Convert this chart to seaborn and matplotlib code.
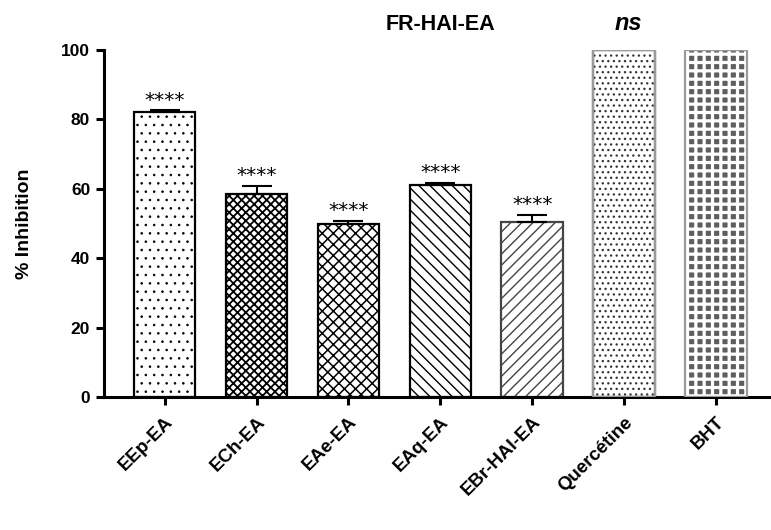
import matplotlib
matplotlib.use("Agg")
import matplotlib.pyplot as plt
import seaborn as sns
import numpy as np
import pandas as pd

categories = ["EEp-EA", "ECh-EA", "EAe-EA", "EAq-EA", "EBr-HAI-EA", "Quercétine", "BHT"]
inhibition = [82.1, 58.5, 49.9, 61.1, 50.4, 100.0, 100.0]
sem = [0.5, 2.3, 0.8, 0.6, 2.0, 0.0, 0.0]
signif = ["****", "****", "****", "****", "****", "", ""]
hatches = ["..", "xxxx", "xxx", "\\\\\\", "///", "...", "++"]
edgecolors = ["black", "black", "black", "black", "#444444", "#333333", "white"]
facecolors = ["white", "white", "white", "white", "white", "white", "#5e5e5e"]
hatch_lw = [0.6, 1.3, 1.1, 1.0, 1.0, 0.9, 2.3]

sns.set_style("ticks")
plt.rcParams["font.family"] = ["Liberation Sans", "DejaVu Sans"]
plt.rcParams["hatch.linewidth"] = 1.0
plt.rcParams["text.color"] = "black"
plt.rcParams["axes.labelcolor"] = "black"
plt.rcParams["xtick.color"] = "black"
plt.rcParams["ytick.color"] = "black"
plt.rcParams["axes.edgecolor"] = "black"

fig = plt.figure(figsize=(7.71, 5.30), dpi=100)
ax = fig.add_axes([0.135, 0.251, 0.865, 0.655])

df = pd.DataFrame({"cat": categories, "val": inhibition})
sns.barplot(data=df, x="cat", y="val", order=categories, ax=ax, width=0.67,
            color="white", edgecolor="black", linewidth=1.6, errorbar=None,
            saturation=1)

for p, h, ec, fc, hl in zip(ax.patches, hatches, edgecolors, facecolors, hatch_lw):
    p.set_hatch(h)
    p.set_edgecolor(ec)
    p.set_facecolor(fc)
    if hasattr(p, "set_hatch_linewidth"):
        p.set_hatch_linewidth(hl)

# light grey outlines for the reference bars
bars = ax.patches[5:7]
for p in bars:
    ax.add_patch(plt.Rectangle(p.get_xy(), p.get_width(), p.get_height(),
                               fill=False, edgecolor="#9a9a9a", linewidth=1.6, zorder=3))

xs = np.arange(len(categories))
ax.errorbar(xs[:5], inhibition[:5], yerr=[np.zeros(5), sem[:5]], fmt="none",
            ecolor="black", elinewidth=1.5, capsize=10.5, capthick=1.5, zorder=5)

for x, v, e, s in zip(xs, inhibition, sem, signif):
    if s:
        ax.text(x, v + e + 0.2, s, ha="center", va="bottom", fontsize=14.5,
                family="DejaVu Sans", color="black")

ax.set_ylim(0, 100)
ax.set_xlim(-0.66, 6.6)
ax.set_yticks([0, 20, 40, 60, 80, 100])
ax.set_yticklabels(["0", "20", "40", "60", "80", "100"], fontsize=12.5, fontweight="bold")
ax.set_xticks(xs)
ax.set_xticklabels(categories, fontsize=13.5, fontweight="bold", rotation=45,
                   ha="right", va="top", rotation_mode="anchor")
ax.set_xlabel("")
ax.set_ylabel("% Inhibition", fontsize=14, fontweight="bold", labelpad=20)

for side in ["top", "right"]:
    ax.spines[side].set_visible(False)
for side in ["left", "bottom"]:
    ax.spines[side].set_linewidth(2.2)
ax.tick_params(axis="both", direction="out", length=6, width=2.2)
ax.tick_params(axis="x", pad=6)
ax.tick_params(axis="y", pad=4)

fig.text(440 / 771, 1 - 24 / 530, "FR-HAI-EA", ha="center", va="center",
         fontsize=15.5, fontweight="bold")
fig.text(628 / 771, 1 - 23 / 530, "ns", ha="center", va="center",
         fontsize=17, fontweight="bold", style="italic")

fig.savefig("out.png", dpi=100)
